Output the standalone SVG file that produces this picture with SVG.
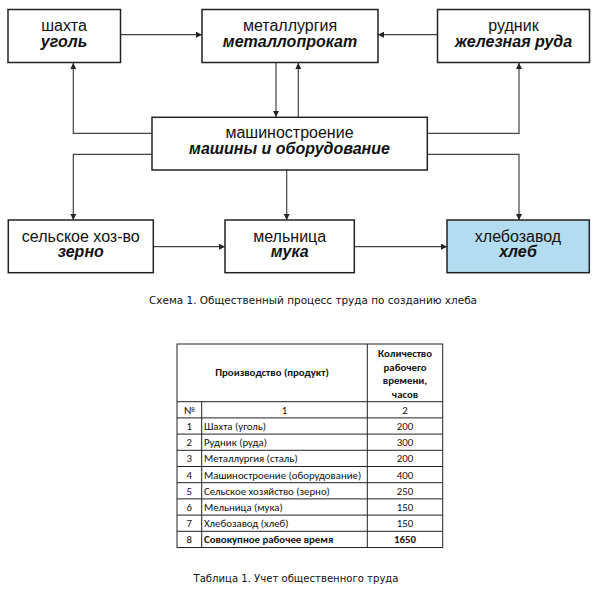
<svg xmlns="http://www.w3.org/2000/svg" width="600" height="600" viewBox="0 0 600 600">
<defs>
<marker id="arr" markerWidth="6" markerHeight="6" refX="6" refY="3" orient="auto" markerUnits="userSpaceOnUse">
<path d="M0,0 L6,3 L0,6 z" fill="#222"/>
</marker>
<style>
.box{fill:#fff;stroke:#222;stroke-width:1.5}
.hl{fill:#b4dcf0}
.t1{font-family:Arial,"Liberation Sans",sans-serif;font-size:16px;fill:#111;text-anchor:middle}
.t2{font-family:Arial,"Liberation Sans",sans-serif;font-size:16px;font-weight:bold;font-style:italic;fill:#111;text-anchor:middle}
.con{fill:none;stroke:#444;stroke-width:1.2;marker-end:url(#arr)}
.cap{font-family:Tahoma,"DejaVu Sans",sans-serif;font-size:11px;fill:#111;text-anchor:middle}
.tl{stroke:#222;stroke-width:1;fill:none}
.tt{font-family:Calibri,"Liberation Sans",sans-serif;font-size:10.8px;fill:#111}
.tb{font-family:Calibri,"Liberation Sans",sans-serif;font-size:10.8px;font-weight:bold;fill:#111}
.c{text-anchor:middle}
</style>
</defs>

<g id="connectors">
<path class="con" d="M120,34.7 H202"/>
<path class="con" d="M437,34.7 H378"/>
<path class="con" d="M276,63 V117"/>
<path class="con" d="M298.3,117 V63"/>
<path class="con" d="M152,133.3 H73.3 V63"/>
<path class="con" d="M427,133.3 H519 V63"/>
<path class="con" d="M152,154.3 H73.3 V220"/>
<path class="con" d="M427,154.3 H519 V220"/>
<path class="con" d="M286.7,170 V220"/>
<path class="con" d="M153,246.7 H225"/>
<path class="con" d="M354,246.7 H447"/>
</g>

<g id="shakhta">
<rect class="box" x="8" y="9.5" width="112.5" height="53"/>
<text class="t1" x="64" y="30.7">шахта</text>
<text class="t2" x="64" y="47">уголь</text>
</g>
<g id="metallurgiya">
<rect class="box" x="202" y="9.5" width="176" height="53"/>
<text class="t1" x="290" y="30.7">металлургия</text>
<text class="t2" x="290" y="47">металлопрокат</text>
</g>
<g id="rudnik">
<rect class="box" x="437.5" y="9.5" width="152" height="53"/>
<text class="t1" x="513.5" y="30.7">рудник</text>
<text class="t2" x="513.5" y="47">железная руда</text>
</g>
<g id="mashinostroenie">
<rect class="box" x="152" y="117.3" width="275.3" height="52.7"/>
<text class="t1" x="289.5" y="137.5">машиностроение</text>
<text class="t2" x="289.5" y="154">машины и оборудование</text>
</g>
<g id="selskoe">
<rect class="box" x="8.3" y="220" width="145" height="52.7"/>
<text class="t1" x="80.8" y="241.5">сельское хоз-во</text>
<text class="t2" x="80.8" y="257">зерно</text>
</g>
<g id="melnitsa">
<rect class="box" x="225" y="220" width="129.3" height="52.7"/>
<text class="t1" x="289.7" y="241.5">мельница</text>
<text class="t2" x="289.7" y="257">мука</text>
</g>
<g id="khlebozavod">
<rect class="box hl" x="447" y="220" width="142.3" height="52.7"/>
<text class="t1" x="518" y="241.5">хлебозавод</text>
<text class="t2" x="518" y="257">хлеб</text>
</g>

<text class="cap" x="313" y="304" textLength="328" lengthAdjust="spacingAndGlyphs">Схема 1. Общественный процесс труда по созданию хлеба</text>

<g id="table">
<rect class="tl" x="177" y="344" width="265.7" height="203.5"/>
<line class="tl" x1="367.3" y1="344" x2="367.3" y2="547.5"/>
<line class="tl" x1="201.7" y1="401.7" x2="201.7" y2="547.5"/>
<line class="tl" x1="177" y1="401.7" x2="442.7" y2="401.7"/>
<line class="tl" x1="177" y1="417.9" x2="442.7" y2="417.9"/>
<line class="tl" x1="177" y1="434.1" x2="442.7" y2="434.1"/>
<line class="tl" x1="177" y1="450.3" x2="442.7" y2="450.3"/>
<line class="tl" x1="177" y1="466.5" x2="442.7" y2="466.5"/>
<line class="tl" x1="177" y1="482.7" x2="442.7" y2="482.7"/>
<line class="tl" x1="177" y1="498.9" x2="442.7" y2="498.9"/>
<line class="tl" x1="177" y1="515.1" x2="442.7" y2="515.1"/>
<line class="tl" x1="177" y1="531.3" x2="442.7" y2="531.3"/>

<text class="tb c" x="272" y="376">Производство (продукт)</text>
<text class="tb c" x="405" y="357">Количество</text>
<text class="tb c" x="405" y="370.5">рабочего</text>
<text class="tb c" x="405" y="384">времени,</text>
<text class="tb c" x="405" y="397.5">часов</text>

<text class="tt c" x="189.3" y="413.7">№</text>
<text class="tt c" x="284.5" y="413.7">1</text>
<text class="tt c" x="405" y="413.7">2</text>

<text class="tt c" x="189.3" y="429.9">1</text>
<text class="tt" x="204" y="429.9">Шахта (уголь)</text>
<text class="tt c" x="405" y="429.9">200</text>

<text class="tt c" x="189.3" y="446.1">2</text>
<text class="tt" x="204" y="446.1">Рудник (руда)</text>
<text class="tt c" x="405" y="446.1">300</text>

<text class="tt c" x="189.3" y="462.3">3</text>
<text class="tt" x="204" y="462.3">Металлургия (сталь)</text>
<text class="tt c" x="405" y="462.3">200</text>

<text class="tt c" x="189.3" y="478.5">4</text>
<text class="tt" x="204" y="478.5">Машиностроение (оборудование)</text>
<text class="tt c" x="405" y="478.5">400</text>

<text class="tt c" x="189.3" y="494.7">5</text>
<text class="tt" x="204" y="494.7">Сельское хозяйство (зерно)</text>
<text class="tt c" x="405" y="494.7">250</text>

<text class="tt c" x="189.3" y="510.9">6</text>
<text class="tt" x="204" y="510.9">Мельница (мука)</text>
<text class="tt c" x="405" y="510.9">150</text>

<text class="tt c" x="189.3" y="527.1">7</text>
<text class="tt" x="204" y="527.1">Хлебозавод (хлеб)</text>
<text class="tt c" x="405" y="527.1">150</text>

<text class="tt c" x="189.3" y="543.3">8</text>
<text class="tb" x="204" y="543.3">Совокупное рабочее время</text>
<text class="tb c" x="405" y="543.3">1650</text>
</g>

<text class="cap" x="296" y="582" textLength="205" lengthAdjust="spacingAndGlyphs">Таблица 1. Учет общественного труда</text>
</svg>
